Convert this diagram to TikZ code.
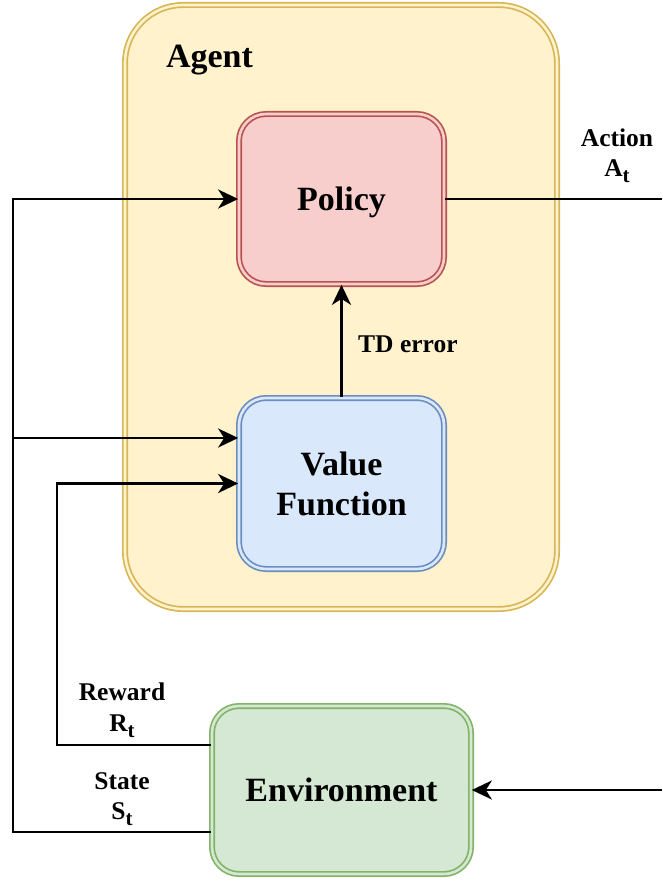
\documentclass[tikz,border=0pt]{standalone}
\usepackage{fontspec}
\setmainfont{Liberation Serif}
\usetikzlibrary{arrows.meta}
\definecolor{agentfill}{HTML}{FFF2CC}
\definecolor{agentdraw}{HTML}{D6B656}
\definecolor{polfill}{HTML}{F8CECC}
\definecolor{poldraw}{HTML}{B85450}
\definecolor{valfill}{HTML}{DAE8FC}
\definecolor{valdraw}{HTML}{6C8EBF}
\definecolor{envfill}{HTML}{D5E8D4}
\definecolor{envdraw}{HTML}{82B366}
\newcommand\mysubscr[1]{\raisebox{-6pt}{\fontsize{21}{21}\selectfont #1}}
\tikzset{
  dbox/.style n args={2}{draw=#1, fill=#2, double=#2, line width=1.7pt, double distance=2.6pt, align=center, inner sep=0pt, font=\fontsize{34}{40}\selectfont\bfseries},
  lbl/.style={align=center, inner sep=0pt, font=\fontsize{25.5}{30.5}\selectfont\bfseries},
  conn/.style={draw=black, line width=2.5pt},
  arr/.style={conn, -{Stealth[length=20pt,width=19pt,inset=6pt]}},
}
\begin{document}
\begin{tikzpicture}[x=1pt,y=-1pt]
\useasboundingbox (0,0) rectangle (662,882);
% Agent container
\node[dbox={agentdraw}{agentfill}, rounded corners=58pt, minimum width=432pt, minimum height=604pt] (agent) at (341,307) {};
\node[anchor=base, inner sep=0pt, font=\fontsize{34}{40}\selectfont\bfseries] (agentlbl) at (209.5,68) {Agent};
% Inner boxes
\node[dbox={poldraw}{polfill}, rounded corners=27pt, minimum width=205pt, minimum height=170pt, text depth=0pt] (policy) at (341.5,199) {Policy};
\node[dbox={valdraw}{valfill}, rounded corners=27pt, minimum width=205pt, minimum height=171pt] (value) at (341.5,483.5) {Value\\Function};
\node[dbox={envdraw}{envfill}, rounded corners=27pt, minimum width=259pt, minimum height=168pt] (env) at (341.5,790) {Environment};
% Free-end coordinates
\coordinate (sbot) at (13,832);
\coordinate (rbot) at (57,745);
\coordinate (aout) at (662,199);
\coordinate (ein) at (662,790);
% Connectors
\draw[arr] (value.north) -- (policy.south);
\draw[conn] (policy.east) -- (aout);
\draw[arr] (ein) -- (env.east);
\draw[arr] (env.west |- sbot) -- (sbot) |- (policy.west);
\draw[arr] (sbot) |- ([yshift=45.5pt]value.west);
\draw[arr] (env.west |- rbot) -- (rbot) |- (value.west);
% Labels
\node[lbl, anchor=base west] (tdlbl) at (358,352) {TD error};
\node[lbl] (actlbl) at (617,156) {Action\\A\mysubscr{t}};
\node[lbl] (rewlbl) at (122,710) {Reward\\R\mysubscr{t}};
\node[lbl] (stlbl) at (122,799) {State\\S\mysubscr{t}};
\end{tikzpicture}
\end{document}
